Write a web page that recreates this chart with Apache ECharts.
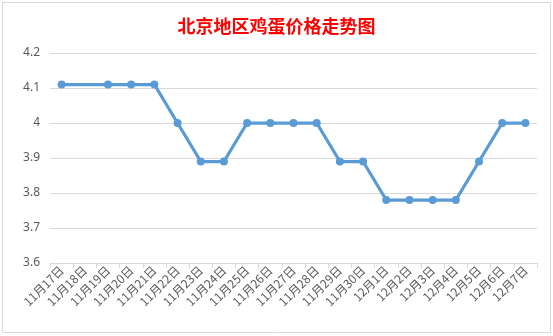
<!DOCTYPE html>
<html><head><meta charset="utf-8">
<script src="https://cdn.jsdelivr.net/npm/echarts@6/dist/echarts.min.js"></script>
<style>html,body{margin:0;padding:0;background:#fff;}#c{width:553px;height:336px;}</style>
</head><body><div id="c"></div>
<script>
const categories = ['11月17日','11月18日','11月19日','11月20日','11月21日','11月22日','11月23日','11月24日','11月25日','11月26日','11月27日','11月28日','11月29日','11月30日','12月1日','12月2日','12月3日','12月4日','12月5日','12月6日','12月7日'];
const prices = [4.11, null, 4.11, 4.11, 4.11, 4.0, 3.89, 3.89, 4.0, 4.0, 4.0, 4.0, 3.89, 3.89, 3.78, 3.78, 3.78, 3.78, 3.89, 4.0, 4.0];
const chart = echarts.init(document.getElementById('c'));
chart.setOption({
  animation: false,
  title: {text: '北京地区鸡蛋价格走势图', left: 'center', top: 12,
    textStyle: {color: '#FF0000', fontSize: 18, fontWeight: 'bold', fontFamily: 'Noto Sans CJK SC'}},
  graphic: [{type: 'rect', shape: {x: 2.5, y: 2.5, width: 548, height: 330},
    style: {fill: 'none', stroke: '#D9D9D9', lineWidth: 1}, z: -1}],
  grid: {left: 50, right: 16, top: 53, bottom: 73},
  xAxis: {type: 'category', data: categories, boundaryGap: true,
    axisLine: {lineStyle: {color: '#D9D9D9'}},
    axisTick: {show: true, length: 5, lineStyle: {color: '#D9D9D9'}},
    axisLabel: {rotate: 45, color: '#595959', fontSize: 12, margin: 5, interval: 0,
      fontFamily: 'Noto Sans CJK SC'}},
  yAxis: {type: 'value', min: 3.6, max: 4.2, interval: 0.1,
    axisLine: {show: false}, axisTick: {show: false},
    axisLabel: {color: '#595959', fontSize: 12, margin: 10, fontFamily: 'Noto Sans',
      formatter: v => String(Math.round(v * 10) / 10)},
    splitLine: {lineStyle: {color: '#D9D9D9'}}},
  series: [{type: 'line', data: prices, connectNulls: true, symbol: 'circle', symbolSize: 8,
    lineStyle: {color: '#5B9BD5', width: 3.25}, itemStyle: {color: '#5B9BD5'}}]
});
</script></body></html>
